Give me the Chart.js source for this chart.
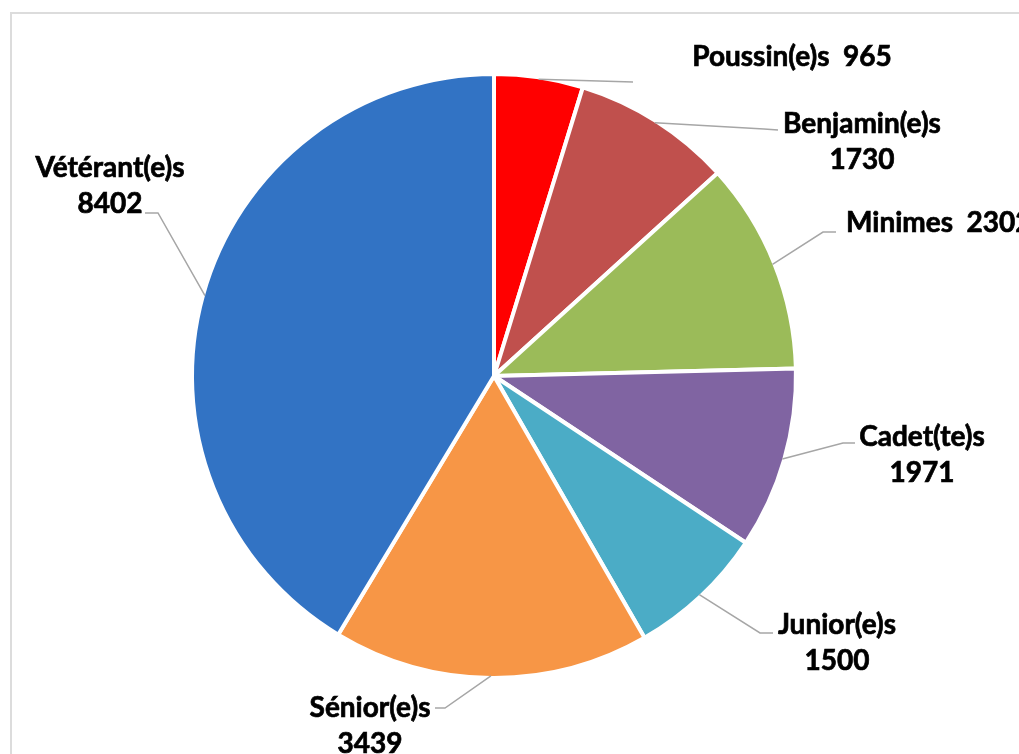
<!DOCTYPE html>
<html>
<head>
<meta charset="utf-8">
<script src="https://cdn.jsdelivr.net/npm/chart.js@4.4.1/dist/chart.umd.min.js"></script>
<style>
  html, body { margin: 0; padding: 0; background: #fff; overflow: hidden; }
  #cadre { position: absolute; left: 10px; top: 12px; width: 1200px; height: 900px;
           border-left: 2px solid #dcdcdc; border-top: 2px solid #dcdcdc; }
  #zone { position: absolute; left: 0; top: 0; width: 1019px; height: 754px; }
</style>
</head>
<body>
<div id="cadre"></div>
<div id="zone"><canvas id="graphique" width="1019" height="754"></canvas></div>
<script>
// donnees
const categories = ['Poussin(e)s', 'Benjamin(e)s', 'Minimes', 'Cadet(te)s', 'Junior(e)s', 'Sénior(e)s', 'Vétérant(e)s'];
const effectifs = [965, 1730, 2302, 1971, 1500, 3439, 8402];
const couleurs = ['#ff0000', '#c0504d', '#9bbb59', '#8064a2', '#4bacc6', '#f79646', '#3273c4'];

// placement des etiquettes (centre du texte, coudes du trait de rappel)
const etiquettes = [
  { x: 792, y: 57, une: true, trait: [[633, 82]] },
  { x: 862, y: 124, trait: [[764, 129], [778, 130]] },
  { x: 846, y: 223, une: true, gauche: true, trait: [[823, 232], [836, 232]] },
  { x: 922, y: 437, trait: [[843, 443], [855, 443]] },
  { x: 837, y: 625, trait: [[760, 633], [773, 633]] },
  { x: 370, y: 708, trait: [[445, 708], [435, 708]] },
  { x: 110, y: 168, trait: [[158, 213], [145, 213]] }
];

const pluginEtiquettes = {
  id: 'etiquettes',
  afterDatasetsDraw(chart) {
    const ctx = chart.ctx;
    const arcs = chart.getDatasetMeta(0).data;
    ctx.save();
    arcs.forEach((arc, i) => {
      const p = arc.getProps(['x', 'y', 'startAngle', 'endAngle', 'outerRadius'], true);
      const a = (p.startAngle + p.endAngle) / 2;
      const r = p.outerRadius - 2;
      const e = etiquettes[i];
      // trait de rappel
      ctx.strokeStyle = '#a6a6a6';
      ctx.lineWidth = 1.5;
      ctx.beginPath();
      ctx.moveTo(p.x + Math.cos(a) * r, p.y + Math.sin(a) * r);
      e.trait.forEach(pt => ctx.lineTo(pt[0], pt[1]));
      ctx.stroke();
      // texte (un leger contour pour epaissir)
      ctx.fillStyle = '#000';
      ctx.strokeStyle = '#000';
      ctx.lineWidth = 0.7;
      ctx.font = 'bold 28px Lato';
      ctx.textBaseline = 'middle';
      ctx.textAlign = e.gauche ? 'left' : 'center';
      const lignes = e.une ? [categories[i] + '  ' + effectifs[i]] : [categories[i], String(effectifs[i])];
      lignes.forEach((t, k) => {
        ctx.fillText(t, e.x, e.y + k * 36);
        ctx.strokeText(t, e.x, e.y + k * 36);
      });
    });
    ctx.restore();
  }
};

new Chart(document.getElementById('graphique').getContext('2d'), {
  type: 'pie',
  data: {
    labels: categories,
    datasets: [{
      data: effectifs,
      backgroundColor: couleurs,
      borderColor: '#ffffff',
      borderWidth: 4,
      hoverBorderWidth: 4
    }]
  },
  options: {
    responsive: false,
    animation: false,
    layout: { padding: { left: 190, right: 221, top: 72, bottom: 74 } },
    plugins: {
      legend: { display: false },
      tooltip: { enabled: false }
    }
  },
  plugins: [pluginEtiquettes]
});
</script>
</body>
</html>
